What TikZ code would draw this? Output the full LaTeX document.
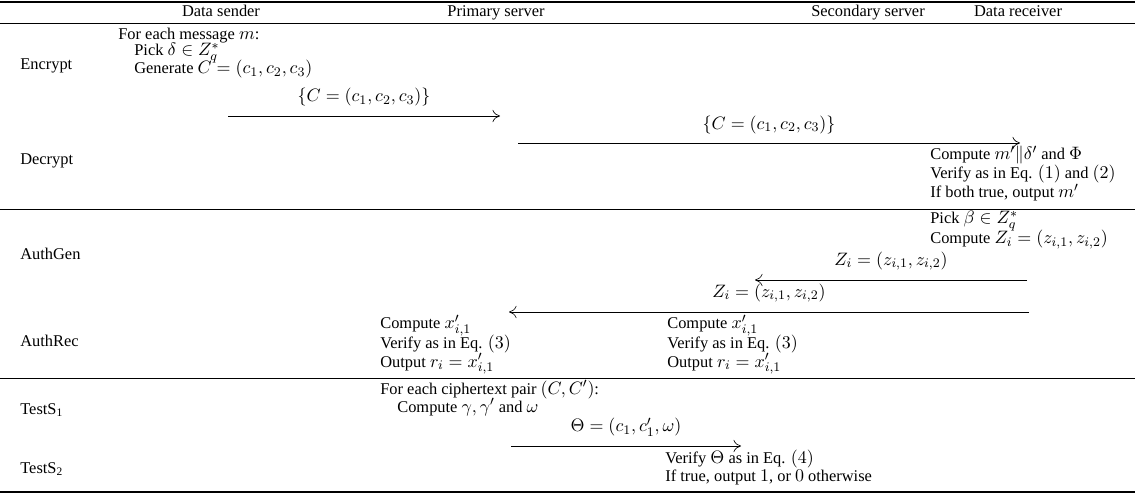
\documentclass[tikz,border=0pt]{standalone}
\usepackage[no-math]{fontspec}
\setmainfont{Liberation Serif}[Scale=0.91]
\usetikzlibrary{arrows.meta}

\begin{document}
\begin{tikzpicture}[x=0.61pt,y=-0.61pt,
  >={To[length=1.6mm,width=2.6mm]},font=\fontsize{11}{13}\selectfont,
  hd/.style={anchor=base,inner sep=0pt},
  txt/.style={anchor=base west,inner sep=0pt},
  lbl/.style={above=3.6pt,inner sep=2pt},
  msg/.style={->,line width=0.4pt},
  heavy/.style={line width=0.8pt},
  light/.style={line width=0.5pt},
]
  \useasboundingbox (0,0) rectangle (1135,494);

  % table rules
  \draw[heavy] (0,2) -- (1135,2);
  \draw[light] (0,23) -- (1135,23);
  \draw[light] (0,209) -- (1135,209);
  \draw[light] (0,378) -- (1135,378);
  \draw[heavy] (0,492) -- (1135,492);

  % column heads
  \node[hd] (hSnd) at (221,17) {Data sender};
  \node[hd] (hPri) at (496,17) {Primary server};
  \node[hd] (hSec) at (868,17) {Secondary server};
  \node[hd] (hRcv) at (1018,17) {Data receiver};

  % phase names
  \node[txt] (lEnc) at (20,70) {Encrypt};
  \node[txt] (lDec) at (20,165) {Decrypt};
  \node[txt] (lGen) at (20,260) {AuthGen};
  \node[txt] (lRec) at (20,347) {AuthRec};
  \node[txt] (lTs1) at (20,414) {TestS\textsubscript{1}};
  \node[txt] (lTs2) at (20,473) {TestS\textsubscript{2}};

  % encrypt (sender)
  \node[txt] (enc1) at (118,40) {For each message $m$:};
  \node[txt] (enc2) at (134,56) {Pick $\delta \in Z_q^*$};
  \node[txt] (enc3) at (134,74) {Generate $C = (c_1, c_2, c_3)$};
  \coordinate (c1s) at (228,116);
  \coordinate (c1e) at (500,116);
  \coordinate (c2s) at (518,143);
  \coordinate (c2e) at (1020,143);

  % decrypt (receiver)
  \node[txt] (dec1) at (930,160) {Compute $m'\|\delta'$ and $\Phi$};
  \node[txt] (dec2) at (930,179) {Verify as in Eq. $(1)$ and $(2)$};
  \node[txt] (dec3) at (930,198) {If both true, output $m'$};

  % authgen (receiver)
  \node[txt] (gen1) at (930,224) {Pick $\beta \in Z_q^*$};
  \node[txt] (gen2) at (930,244) {Compute $Z_i = (z_{i,1}, z_{i,2})$};
  \coordinate (z1s) at (1027,280);
  \coordinate (z1e) at (755,280);
  \coordinate (z2s) at (1029,312);
  \coordinate (z2e) at (509,312);

  % authrec (both servers)
  \node[txt] (pr1) at (380,329) {Compute $x'_{i,1}$};
  \node[txt] (pr2) at (380,348) {Verify as in Eq. $(3)$};
  \node[txt] (pr3) at (380,367) {Output $r_i = x'_{i,1}$};
  \node[txt] (sr1) at (667,329) {Compute $x'_{i,1}$};
  \node[txt] (sr2) at (667,348) {Verify as in Eq. $(3)$};
  \node[txt] (sr3) at (667,367) {Output $r_i = x'_{i,1}$};

  % tests
  \node[txt] (ts1) at (380,394) {For each ciphertext pair $(C, C')$:};
  \node[txt] (ts2) at (397,412) {Compute $\gamma, \gamma'$ and $\omega$};
  \coordinate (t1s) at (511,446);
  \coordinate (t1e) at (741,446);
  \node[txt] (ts3) at (665,463) {Verify $\Theta$ as in Eq. $(4)$};
  \node[txt] (ts4) at (665,481) {If true, output $1$, or $0$ otherwise};

  % messages
  \draw[msg] (c1s) -- node[lbl] {$\{C = (c_1, c_2, c_3)\}$} (c1e);
  \draw[msg] (c2s) -- node[lbl] {$\{C = (c_1, c_2, c_3)\}$} (c2e);
  \draw[msg] (z1s) -- node[lbl] {$Z_i = (z_{i,1}, z_{i,2})$} (z1e);
  \draw[msg] (z2s) -- node[lbl] {$Z_i = (z_{i,1}, z_{i,2})$} (z2e);
  \draw[msg] (t1s) -- node[lbl] {$\Theta = (c_1, c'_1, \omega)$} (t1e);
\end{tikzpicture}
\end{document}
